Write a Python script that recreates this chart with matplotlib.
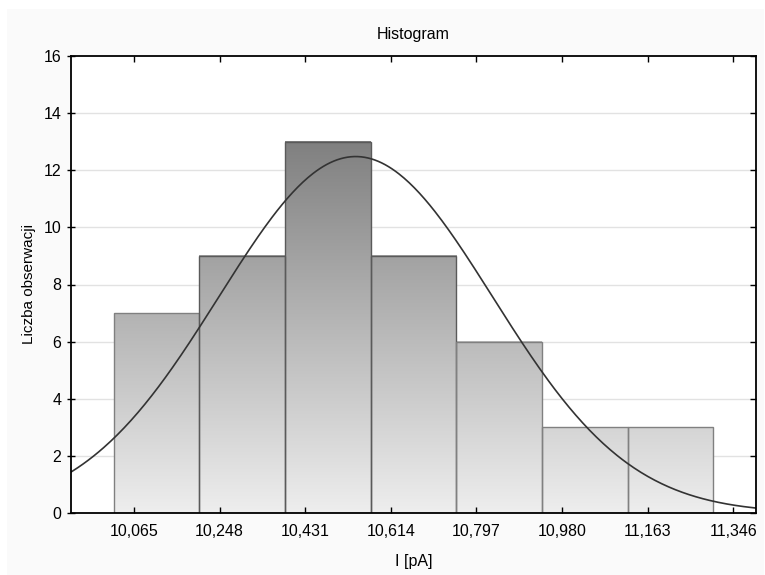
import matplotlib
matplotlib.use("Agg")
import matplotlib.pyplot as plt
from matplotlib.patches import Rectangle
import numpy as np

plt.rcParams['font.family'] = ['Liberation Sans', 'DejaVu Sans']

# histogram data
bin_edges = [10.022, 10.205, 10.388, 10.571, 10.754, 10.937, 11.120, 11.303]
counts = [7, 9, 13, 9, 6, 3, 3]
tick_values = [10.065, 10.248, 10.431, 10.614, 10.797, 10.980, 11.163, 11.346]
tick_labels = ['10,065', '10,248', '10,431', '10,614', '10,797', '10,980', '11,163', '11,346']
y_ticks = [0, 2, 4, 6, 8, 10, 12, 14, 16]

# fitted normal curve parameters
fit_mean = 10.539
fit_sd = 0.2925
n_obs = sum(counts)
bin_width = bin_edges[1] - bin_edges[0]

x_min, x_max = 9.9305, 11.3945

fig = plt.figure(figsize=(7.65, 5.75), dpi=100, facecolor='white')
# light panel behind everything
fig.patches.append(Rectangle((7 / 765, 0), 1 - 8 / 765, 1 - 9 / 575,
                             transform=fig.transFigure, facecolor='#fafafa',
                             edgecolor='none', zorder=-10))
ax = fig.add_axes([71 / 765, 62 / 575, 685 / 765, 457 / 575])
ax.set_facecolor('white')

# gridlines
for yv in y_ticks[1:-1]:
    ax.axhline(yv, color='#e2e2e2', lw=1.0, zorder=0)

# gradient-filled bars (darker towards top, by absolute height)
def gray_at(y):
    return (238 - 110 / 13 * y) / 255.0

for left, right, c in zip(bin_edges[:-1], bin_edges[1:], counts):
    ys = np.linspace(0, c, 200)
    vals = np.array([gray_at(v) for v in ys])
    img = np.repeat(vals[:, None], 2, axis=1)
    rgb = np.dstack([img, img, img])
    ax.imshow(rgb, extent=[left, right, 0, c], origin='lower',
              aspect='auto', zorder=1, interpolation='bilinear')
    edge = '#5a5a5a' if c >= 9 else '#808080'
    ax.add_patch(Rectangle((left, 0), right - left, c, facecolor='none',
                           edgecolor=edge, lw=1.0, zorder=2))

# normal curve
xs = np.linspace(x_min, x_max, 400)
ys = n_obs * bin_width / (fit_sd * np.sqrt(2 * np.pi)) * np.exp(-(xs - fit_mean) ** 2 / (2 * fit_sd ** 2))
ax.plot(xs, ys, color='#333333', lw=1.2, zorder=3)

ax.set_xlim(x_min, x_max)
ax.set_ylim(0, 16)
ax.set_xticks(tick_values)
ax.set_xticklabels(tick_labels)
ax.set_yticks(y_ticks)

for s in ax.spines.values():
    s.set_color('black')
    s.set_linewidth(1.3)
    s.set_zorder(5)

ax.tick_params(axis='x', direction='in', length=4, width=1, top=True,
               labelsize=11.5, pad=8)
ax.tick_params(axis='y', direction='inout', length=6, width=1, right=False,
               labelsize=11.5, pad=4)
# right side ticks inward
ax2 = ax.secondary_yaxis('right')
ax2.set_yticks(y_ticks)
ax2.tick_params(direction='in', length=4, width=1, labelright=False)
ax2.spines['right'].set_visible(False)

ax.set_title('Histogram', fontsize=11.5, pad=12)
ax.set_xlabel('I [pA]', fontsize=11.5, labelpad=11)
ax.set_ylabel('Liczba obserwacji', fontsize=11, labelpad=5)

fig.savefig('out.png', dpi=100, facecolor=fig.get_facecolor())
